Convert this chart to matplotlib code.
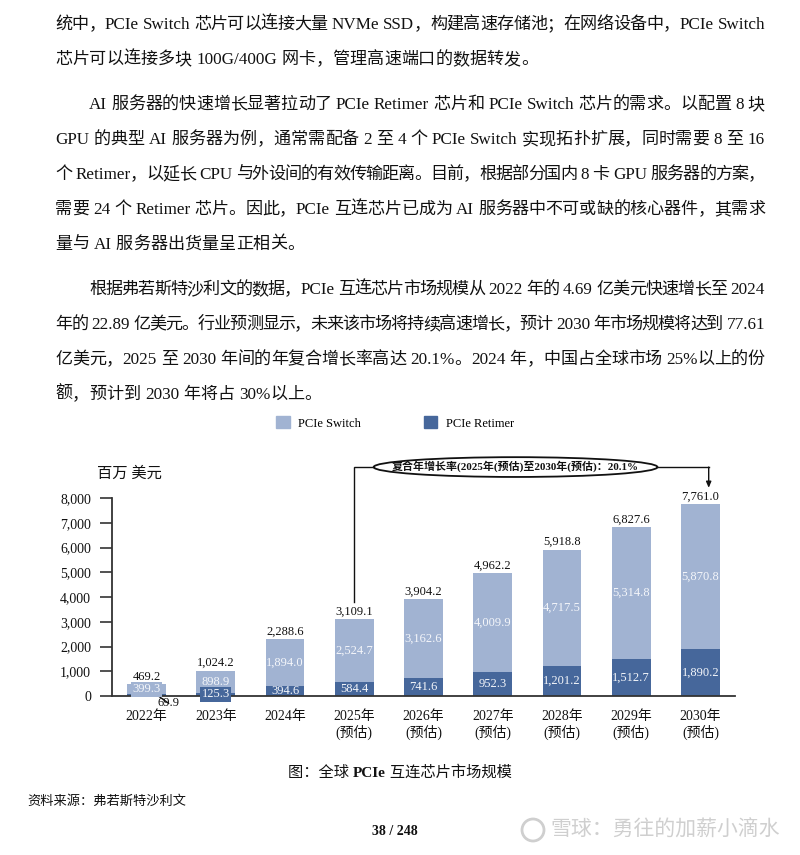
import matplotlib
matplotlib.use("Agg")
import matplotlib.pyplot as plt
import matplotlib.patches as mpatches
from matplotlib.transforms import IdentityTransform

plt.rcParams['font.family'] = ['Liberation Serif', 'Noto Sans CJK SC']

# ---------------- data ----------------
years = ['2022年', '2023年', '2024年', '2025年', '2026年', '2027年', '2028年', '2029年', '2030年']
forecast = [False, False, False, True, True, True, True, True, True]
switch = [399.3, 898.9, 1894.0, 2524.7, 3162.6, 4009.9, 4717.5, 5314.8, 5870.8]
retimer = [69.9, 125.3, 394.6, 584.4, 741.6, 952.3, 1201.2, 1512.7, 1890.2]
totals = [469.2, 1024.2, 2288.6, 3109.1, 3904.2, 4962.2, 5918.8, 6827.6, 7761.0]
yticks = [0, 1000, 2000, 3000, 4000, 5000, 6000, 7000, 8000]
series_names = ['PCIe Switch', 'PCIe Retimer']
cagr_text = '复合年增长率(2025年(预估)至2030年(预估)：20.1%'
unit_text = '百万 美元'

para_lines = [
    ('统中，PCIe Switch 芯片可以连接大量 NVMe SSD，构建高速存储池；在网络设备中，PCIe Switch', False, True),
    ('芯片可以连接多块 100G/400G 网卡，管理高速端口的数据转发。', False, False),
    ('AI 服务器的快速增长显著拉动了 PCIe Retimer 芯片和 PCIe Switch 芯片的需求。以配置 8 块', True, True),
    ('GPU 的典型 AI 服务器为例，通常需配备 2 至 4 个 PCIe Switch 实现拓扑扩展，同时需要 8 至 16', False, True),
    ('个 Retimer，以延长 CPU 与外设间的有效传输距离。目前，根据部分国内 8 卡 GPU 服务器的方案，', False, True),
    ('需要 24 个 Retimer 芯片。因此，PCIe 互连芯片已成为 AI 服务器中不可或缺的核心器件，其需求', False, True),
    ('量与 AI 服务器出货量呈正相关。', False, False),
    ('根据弗若斯特沙利文的数据，PCIe 互连芯片市场规模从 2022 年的 4.69 亿美元快速增长至 2024', True, True),
    ('年的 22.89 亿美元。行业预测显示，未来该市场将持续高速增长，预计 2030 年市场规模将达到 77.61', False, True),
    ('亿美元，2025 至 2030 年间的年复合增长率高达 20.1%。2024 年，中国占全球市场 25%以上的份', False, True),
    ('额，预计到 2030 年将占 30%以上。', False, False),
]
para_baselines = [29, 64, 109, 144, 179, 214, 249, 294, 329, 364, 399]

caption_parts = [('图：全球 ', 'normal'), ('PCIe', 'bold'), (' 互连芯片市场规模', 'normal')]
source_text = '资料来源：弗若斯特沙利文'
page_text = '38 / 248'
watermark_text = '雪球：勇往的加薪小滴水'

# ---------------- figure ----------------
W, H = 800, 855
fig = plt.figure(figsize=(W / 100, H / 100), dpi=100)
fig.patch.set_facecolor('white')
renderer = fig.canvas.get_renderer()

C_SW = '#A1B3D2'
C_RT = '#46679B'
TXT = '#111111'


def tokenize(s):
    toks, cur, cur_sp, sp = [], '', False, False
    for ch in s:
        if ch == ' ':
            if cur:
                toks.append((cur, cur_sp))
                cur = ''
            sp = True
        elif ord(ch) >= 0x2E80:
            if cur:
                toks.append((cur, cur_sp))
                cur = ''
            toks.append((ch, sp))
            sp = False
        else:
            if not cur:
                cur_sp = sp
                sp = False
            cur += ch
    if cur:
        toks.append((cur, cur_sp))
    return toks


def draw_line(s, x0, base, x1=None, size=12.3):
    toks = tokenize(s)
    arts = []
    widths = []
    for t, _ in toks:
        a = fig.text(0, 0, t, fontsize=size, color=TXT, va='baseline', ha='left',
                     transform=IdentityTransform())
        arts.append(a)
        widths.append(a.get_window_extent(renderer).width)
    spw = 0.25 * size * 100 / 72
    natural = sum(widths) + sum(spw for i, (_, sp) in enumerate(toks) if sp and i > 0)
    extra = 0.0
    if x1 is not None and len(toks) > 1:
        extra = (x1 - x0 - natural) / (len(toks) - 1)
    x = x0
    for i, ((t, sp), a, w) in enumerate(zip(toks, arts, widths)):
        if i > 0:
            x += extra + (spw if sp else 0)
        a.set_position((x, H - base))
        x += w


for (s, indent, just), b in zip(para_lines, para_baselines):
    draw_line(s, 89 if indent else 55, b, 765 if just else None)

# caption
cap_arts, cap_w = [], []
for t, wt in caption_parts:
    a = fig.text(0, 0, t, fontsize=11, fontweight=wt, color=TXT, va='baseline',
                 transform=IdentityTransform())
    cap_arts.append(a)
    cap_w.append(a.get_window_extent(renderer).width)
x = 400 - sum(cap_w) / 2
for a, w in zip(cap_arts, cap_w):
    a.set_position((x, H - 777))
    x += w

fig.text(27, H - 805, source_text, fontsize=9.5, color=TXT, va='baseline',
         transform=IdentityTransform())
fig.text(395, H - 835, page_text, fontsize=10, fontweight='bold', color=TXT,
         va='baseline', ha='center', transform=IdentityTransform())
fig.text(550, H - 830, watermark_text, fontsize=15, color='#CFCFCF', va='center',
         family=['Noto Sans CJK SC'], transform=IdentityTransform())
fig.add_artist(mpatches.Circle((533, H - 830), 11, transform=IdentityTransform(),
                               fill=False, ec='#CFCFCF', lw=2))

# ---------------- chart ----------------
ax = fig.add_axes([112 / W, (H - 696) / H, 623 / W, 198 / H])
ax.set_facecolor('white')
xs = list(range(len(years)))
bw = 0.56
ax.bar(xs, retimer, width=bw, color=C_RT, zorder=2, label=series_names[1])
ax.bar(xs, switch, width=bw, bottom=retimer, color=C_SW, zorder=2, label=series_names[0])
ax.set_xlim(-0.5, 8.5)
ax.set_ylim(0, 8000)

for i in xs:
    ax.text(i, totals[i] + 60, f'{totals[i]:,.1f}', ha='center', va='bottom',
            fontsize=9, color=TXT, clip_on=False)
    ax.text(i, retimer[i] + switch[i] / 2, f'{switch[i]:,.1f}', ha='center', va='center',
            fontsize=9, color='#F4F6FA', zorder=4,
            bbox=dict(boxstyle='square,pad=0.1', fc=C_SW, ec='none') if i == 0 else None)
    if i == 0:
        ax.annotate(f'{retimer[i]:,.1f}', xy=(0.16, 20), xytext=(0.32, -300),
                    ha='center', va='center', fontsize=9, color=TXT, annotation_clip=False,
                    arrowprops=dict(arrowstyle='-', lw=1, color=TXT, shrinkA=0, shrinkB=0))
    else:
        ax.text(i, retimer[i] / 2, f'{retimer[i]:,.1f}', ha='center', va='center',
                fontsize=9, color='#F4F6FA', zorder=4, clip_on=False,
                bbox=dict(boxstyle='square,pad=0.12', fc=C_RT, ec='none') if i == 1 else None)

ax.set_xticks(xs)
ax.set_xticklabels([y + ('\n(预估)' if f else '') for y, f in zip(years, forecast)],
                   fontsize=10, linespacing=1.2, color=TXT)
ax.set_yticks(yticks)
ax.set_yticklabels([f'{v:,}' for v in yticks], fontsize=10, color=TXT)
ax.tick_params(axis='x', length=0, pad=10)
ax.tick_params(axis='y', length=9, width=1.2, pad=6, direction='out', colors='#333333',
               labelcolor=TXT)
for s in ['top', 'right']:
    ax.spines[s].set_visible(False)
for s in ['left', 'bottom']:
    ax.spines[s].set_color('#333333')
    ax.spines[s].set_linewidth(1.3)
ax.spines['bottom'].set_zorder(3)

# unit label
fig.text(97, H - 474, unit_text, fontsize=11, color=TXT, va='center',
         transform=IdentityTransform())

# legend
handles = [mpatches.Patch(color=C_SW), mpatches.Patch(color=C_RT)]
fig.legend(handles, series_names, loc='center', bbox_to_anchor=(395 / W, 1 - 423 / H),
           ncol=2, frameon=False, fontsize=9, handlelength=1.05, handleheight=1.05,
           handletextpad=0.7, columnspacing=5.0)

# CAGR annotation
i0, i1 = 3, 8
ey = 9250
ecx, ew, eh = 5.33, 4.1, 800
ax.add_patch(mpatches.Ellipse((ecx, ey), ew, eh, fill=False, ec='#111111', lw=1.3,
                              clip_on=False, zorder=5))
ax.text(ecx, ey, cagr_text, ha='center', va='center', fontsize=7.9, fontweight='bold',
        color=TXT, clip_on=False)
ax.plot([i0, i0, ecx - ew / 2], [totals[i0] + 700, ey, ey], color='#111111', lw=1,
        clip_on=False, solid_joinstyle='miter')
ax.plot([ecx + ew / 2, i1 + 0.12], [ey, ey], color='#111111', lw=1, clip_on=False)
ax.annotate('', xy=(i1 + 0.12, totals[i1] + 650), xytext=(i1 + 0.12, ey),
            annotation_clip=False,
            arrowprops=dict(arrowstyle='-|>,head_length=0.35,head_width=0.15', lw=1,
                            color='#111111', shrinkA=0, shrinkB=0))

fig.savefig('out.png', dpi=100, facecolor='white')
